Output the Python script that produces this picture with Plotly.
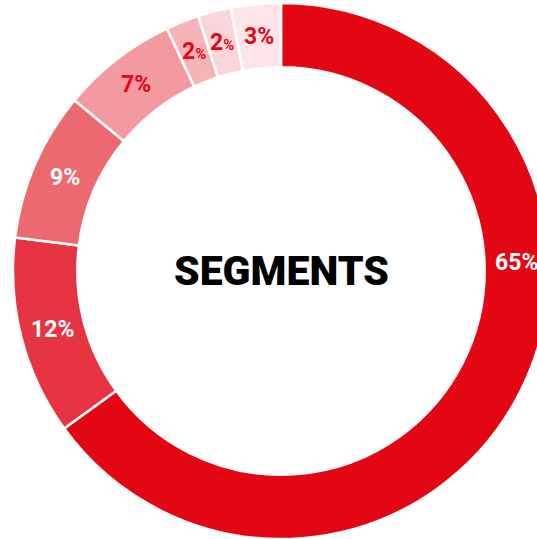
import math
import plotly.graph_objects as go

# Segment shares, listed clockwise from 12 o'clock
segments = ["Segment A", "Segment B", "Segment C", "Segment D", "Segment E", "Segment F", "Segment G"]
shares = [65, 12, 9, 7, 2, 2, 3]
slice_colors = ["#E30613", "#E73442", "#EC6970", "#F39AA0", "#F7B4B8", "#FBD6D9", "#FDE5E7"]
label_colors = ["#FFFFFF", "#FFFFFF", "#FFFFFF", "#E30613", "#E30613", "#E30613", "#E30613"]
small_percent = [False, False, False, False, True, True, False]
center_title = "SEGMENTS"

# Figure is a little wider than the viewport so the ring runs off the right/bottom edge
W, H = 562, 542
R = 268               # outer radius in px
cx, cy = 281, 271     # ring centre, px from top-left
HOLE = 0.76
FONT = "Roboto"

dom_x = [(cx - R) / W, (cx + R) / W]
dom_y = [1 - (cy + R) / H, 1 - (cy - R) / H]

fig = go.Figure(
    go.Pie(
        labels=segments,
        values=shares,
        hole=HOLE,
        sort=False,
        direction="clockwise",
        rotation=0,
        textinfo="none",
        hoverinfo="label+percent",
        marker=dict(colors=slice_colors, line=dict(color="#FFFFFF", width=2.5)),
        domain=dict(x=dom_x, y=dom_y),
        showlegend=False,
    )
)

# Percentage labels placed along the middle of the ring
r_mid = R * (1 + HOLE) / 2
angle_override = {0: 88}  # the large slice keeps its label on the visible right side
total = sum(shares)
annotations = []
start = 0.0
for i, v in enumerate(shares):
    span = 360.0 * v / total
    ang = angle_override.get(i, start + span / 2)
    start += span
    px = cx + r_mid * math.sin(math.radians(ang))
    py = cy - r_mid * math.cos(math.radians(ang))
    if small_percent[i]:
        txt = f"{v}<span style='font-size:15px'>%</span>"
    else:
        txt = f"{v}%"
    annotations.append(dict(
        x=px / W, y=1 - py / H, xref="paper", yref="paper",
        text=txt, showarrow=False,
        font=dict(family=FONT, size=23, color=label_colors[i], weight="bold"),
        xanchor="center", yanchor="middle",
    ))

annotations.append(dict(
    x=cx / W, y=1 - cy / H, xref="paper", yref="paper",
    text=center_title, showarrow=False,
    font=dict(family=FONT, size=41, color="#000000", weight=900),
    xanchor="center", yanchor="middle",
))

fig.update_layout(
    width=W, height=H,
    margin=dict(l=0, r=0, t=0, b=0),
    paper_bgcolor="#FFFFFF",
    plot_bgcolor="#FFFFFF",
    annotations=annotations,
)

fig.write_html(
    "out.html",
    post_script="document.body.style.margin='0';document.body.style.overflow='hidden';",
)
